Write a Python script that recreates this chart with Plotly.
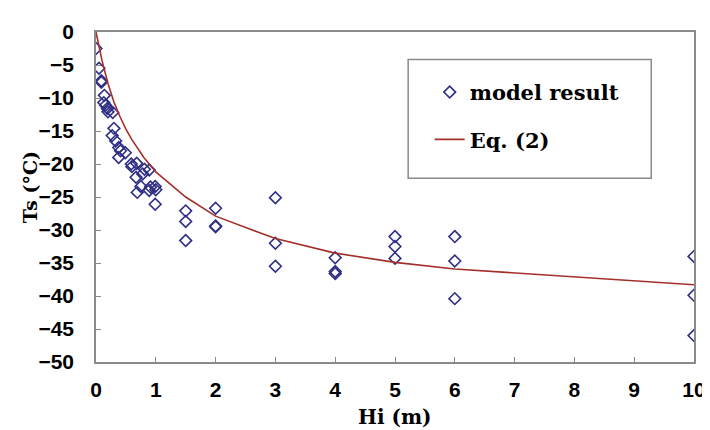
"""
Ts vs Hi: model results and Eq. (2) curve
"""
import plotly.graph_objects as go

# model result points (Hi in m, Ts in deg C)
hi_model = [0, 0.05, 0.09, 0.09, 0.14, 0.13, 0.16, 0.19, 0.2, 0.28,
            0.3, 0.27, 0.33, 0.38, 0.41, 0.49, 0.38, 0.59, 0.6, 0.68,
            0.67, 0.78, 0.81, 0.89, 0.69, 0.75, 0.89, 0.91, 0.99, 1.0,
            0.99, 1.5, 1.5, 1.5, 2, 2, 2, 3, 3, 3,
            4, 4, 4, 5, 5, 5, 6, 6, 6, 10, 10, 10]
ts_model = [-2.5, -5.5, -7.4, -7.6, -9.6, -10.7, -11.1, -11.6, -12.1, -12.2,
            -14.6, -15.7, -16.5, -17.5, -18.0, -18.3, -19.0, -20.0, -20.4, -19.9,
            -22.0, -21.5, -20.8, -20.9, -24.3, -23.4, -24.0, -23.5, -23.4, -23.9,
            -26.1, -27.1, -28.7, -31.6, -26.7, -29.4, -29.5, -25.1, -32.0, -35.5,
            -34.2, -36.3, -36.6, -31.0, -32.5, -34.3, -31.0, -34.7, -40.4, -34.0, -39.9, -46.0]

# Eq. (2) curve
hi_eq = [0, 0.05, 0.1, 0.2, 0.3, 0.4, 0.5, 0.6, 0.7, 0.8, 0.9, 1, 1.5, 2, 3, 4, 5, 6, 10]
ts_eq = [0, -2.2, -4.3, -7.8, -10.6, -12.8, -14.7, -16.3, -17.7, -19.0, -20.1,
         -21.2, -25.0, -27.9, -31.3, -33.5, -34.9, -35.9, -38.3]

x_ticks = list(range(0, 11))
y_ticks = list(range(-50, 1, 5))

SERIF = "DejaVu Serif"
SANS = "Liberation Sans"
FRAME = "#8a8a8a"

fig = go.Figure()

fig.add_trace(go.Scatter(
    x=hi_model, y=ts_model,
    mode='markers',
    name='<b>model result</b>',
    legendgroup='a',
    marker=dict(symbol='diamond-open', size=9, color='#2f2f86',
                line=dict(width=1.6, color='#2f2f86'))
))

fig.add_trace(go.Scatter(
    x=hi_eq, y=ts_eq,
    mode='lines',
    name='<b>Eq. (2)</b>',
    legendgroup='b',
    line=dict(color='#a3302a', width=1.6)
))

fig.update_xaxes(
    range=[0, 10], tickvals=x_ticks,
    showline=True, linecolor=FRAME, linewidth=1.5, mirror=True,
    ticks='inside', ticklen=5, tickcolor=FRAME, tickwidth=1.2,
    ticklabelstandoff=8,
    tickfont=dict(family=SANS, size=21, color='black', weight='bold'),
    showgrid=False, zeroline=False
)
fig.update_yaxes(
    range=[-50, 0], tickvals=y_ticks,
    showline=True, linecolor=FRAME, linewidth=1.5, mirror=True,
    ticks='inside', ticklen=5, tickcolor=FRAME, tickwidth=1.2,
    ticklabelstandoff=16,
    tickfont=dict(family=SANS, size=21, color='black', weight='bold'),
    showgrid=False, zeroline=False
)

# axis titles
fig.add_annotation(text='<b>Hi (m)</b>', xref='paper', yref='paper',
                   x=0.5, y=-0.168, xanchor='center', yanchor='middle',
                   showarrow=False,
                   font=dict(family=SERIF, size=20, color='black'))
fig.add_annotation(text='<b>Ts (°C)</b>', xref='paper', yref='paper',
                   x=-0.11, y=0.53, xanchor='center', yanchor='middle',
                   showarrow=False, textangle=-90,
                   font=dict(family=SERIF, size=19, color='black'))

# legend frame
fig.add_shape(type='rect', xref='paper', yref='paper',
              x0=0.522, x1=0.9285, y0=0.5565, y1=0.917,
              line=dict(color=FRAME, width=1.5))

fig.update_layout(
    width=710, height=430,
    margin=dict(l=88, r=17, t=19, b=76),
    paper_bgcolor='white',
    plot_bgcolor='white',
    showlegend=True,
    legend=dict(
        x=0.558, y=0.879, xanchor='left', yanchor='top',
        bgcolor='rgba(0,0,0,0)', borderwidth=0,
        font=dict(family=SERIF, size=21, color='black'),
        tracegroupgap=17, itemwidth=30
    )
)

fig.write_html("out.html")
